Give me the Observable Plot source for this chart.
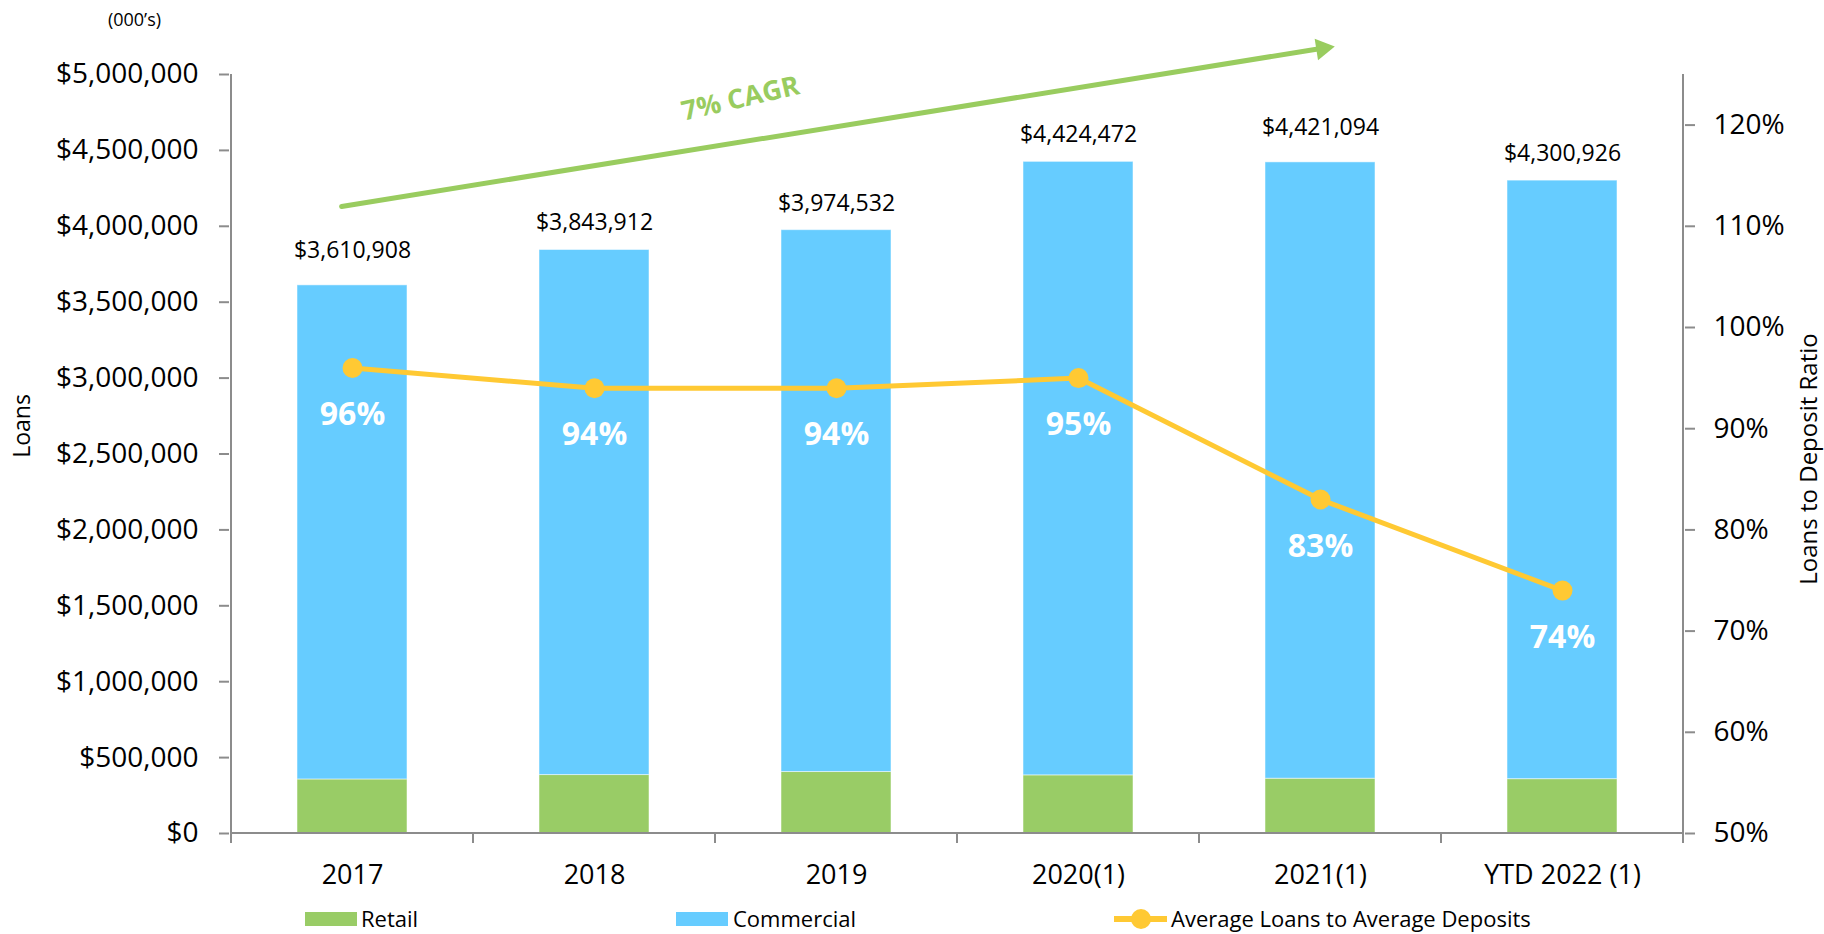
<!DOCTYPE html>
<html><head><meta charset="utf-8">
<script src="https://cdn.jsdelivr.net/npm/d3@7"></script>
<script src="https://cdn.jsdelivr.net/npm/@observablehq/plot@0.6"></script>
<style>
body{margin:0;background:#fff;font-family:"Open Sans",sans-serif;}
#chart svg{display:block;}
#legend{position:relative;width:1824px;height:39px;font-size:22px;color:#000;}
.sw{position:absolute;}
.lt{position:absolute;line-height:22px;top:12px;white-space:nowrap;}
</style></head><body>
<div id="chart"></div>
<div id="legend"></div>
<script>
// ---- data ----
const years = ["2017", "2018", "2019", "2020(1)", "2021(1)", "YTD 2022 (1)"];
const totalLoans = [3610908, 3843912, 3974532, 4424472, 4421094, 4300926];
const retailLoans = [356000, 385000, 405000, 383000, 361000, 358000];
const loanToDeposit = [0.96, 0.94, 0.94, 0.95, 0.83, 0.74];
const loanTicks = [0, 500000, 1000000, 1500000, 2000000, 2500000, 3000000, 3500000, 4000000, 4500000, 5000000];
const ratioTicks = [0.5, 0.6, 0.7, 0.8, 0.9, 1.0, 1.1, 1.2];
const loanDomain = [0, 5000000];
const ratioDomain = [0.5, 1.25];
const raisedLabels = ["2017", "2021(1)"];
const cagrArrow = [{x1: "2017", y1: 4142000, x2: "2021(1)", y2: 5171000}];
const cagrLabel = [{x: "2019", y: 4840000, text: "7% CAGR"}];
const seriesNames = ["Retail", "Commercial", "Average Loans to Average Deposits"];

// ---- colours ----
const cRetail = "#99CC66", cComm = "#66CCFF", cLine = "#FFC933", cAxis = "#8C8C8C", cCagr = "#99CC5F";

const toLeft = r => (r - ratioDomain[0]) / (ratioDomain[1] - ratioDomain[0]) * (loanDomain[1] - loanDomain[0]);
const rows = years.map((y, i) => ({
  year: y, total: totalLoans[i], retail: retailLoans[i],
  commercial: totalLoans[i] - retailLoans[i], ratio: loanToDeposit[i], ratioY: toLeft(loanToDeposit[i])
}));
const fmt$ = d3.format(",");

const axisLines = (index, scales, values, dims) => {
  const x = scales.x, y = scales.y;
  const step = x.step(), bw = x.bandwidth();
  const y0 = y(loanDomain[0]), yTop = y(loanDomain[1]);
  const xl = x(years[0]) + bw / 2 - step / 2;
  const xr = x(years[years.length - 1]) + bw / 2 + step / 2;
  const g = d3.create("svg:g").attr("stroke", cAxis).attr("stroke-width", 2).attr("fill", "none");
  g.append("line").attr("x1", xl).attr("x2", xr).attr("y1", y0).attr("y2", y0);
  g.append("line").attr("x1", xl).attr("x2", xl).attr("y1", yTop).attr("y2", y0 + 10);
  g.append("line").attr("x1", xr).attr("x2", xr).attr("y1", yTop).attr("y2", y0 + 10);
  years.forEach(yr => {
    const b = x(yr) + bw / 2 + step / 2;
    g.append("line").attr("x1", b).attr("x2", b).attr("y1", y0).attr("y2", y0 + 10);
  });
  return g.node();
};

const chart = Plot.plot({
  width: 1824, height: 895,
  marginLeft: 229, marginRight: 140, marginTop: 74, marginBottom: 62,
  style: {fontFamily: "'Open Sans', sans-serif", color: "#000", background: "#fff", overflow: "visible"},
  x: {domain: years, paddingInner: 0.546, paddingOuter: 0.273, label: null},
  y: {domain: loanDomain, label: null},
  marks: [
    Plot.barY(rows, {x: "year", y1: 0, y2: "retail", fill: cRetail, stroke: "#fff", strokeOpacity: 0.5, strokeWidth: 1}),
    Plot.barY(rows, {x: "year", y1: "retail", y2: "total", fill: cComm, stroke: "#fff", strokeOpacity: 0.5, strokeWidth: 1}),
    axisLines,
    Plot.axisY(loanTicks, {anchor: "left", tickSize: 10, tickPadding: 21, fontSize: 28, stroke: cAxis, strokeWidth: 2,
      tickFormat: d => "$" + fmt$(d), label: null}),
    Plot.axisY(ratioTicks.map(toLeft), {anchor: "right", tickSize: 10, tickPadding: 19, fontSize: 28, stroke: cAxis, strokeWidth: 2,
      tickFormat: d => Math.round((ratioDomain[0] + d / loanDomain[1] * (ratioDomain[1] - ratioDomain[0])) * 100) + "%", label: null}),
    Plot.axisX({anchor: "bottom", tickSize: 0, tickPadding: 31, fontSize: 27, label: null}),
    Plot.text(rows.filter(d => !raisedLabels.includes(d.year)), {x: "year", y: "total", text: d => "$" + fmt$(d.total), dy: -27, fontSize: 23, lineAnchor: "middle"}),
    Plot.text(rows.filter(d => raisedLabels.includes(d.year)), {x: "year", y: "total", text: d => "$" + fmt$(d.total), dy: -35, fontSize: 23, lineAnchor: "middle"}),
    Plot.line(rows, {x: "year", y: "ratioY", stroke: cLine, strokeWidth: 5}),
    Plot.dot(rows, {x: "year", y: "ratioY", r: 10, fill: cLine}),
    Plot.text(rows, {x: "year", y: "ratioY", text: d => Math.round(d.ratio * 100) + "%", dy: 47, fontSize: 32, fontWeight: "bold", fill: "#fff", lineAnchor: "middle"}),
    Plot.arrow(cagrArrow, {x1: "x1", y1: "y1", x2: "x2", y2: "y2", stroke: cCagr, strokeWidth: 5, headLength: 0, insetStart: -11, insetEnd: -2}),
    Plot.dot(cagrArrow, {x: "x2", y: "y2", dx: 2, symbol: "triangle", r: 8, fill: cCagr, rotate: 81}),
    Plot.text(cagrLabel, {x: "x", y: "y", text: "text", dx: -96, fontSize: 27, fontWeight: "bold", fill: cCagr, rotate: -13}),
    Plot.text(["(000’s)"], {frameAnchor: "top-left", dx: -95, dy: -54, fontSize: 18, textAnchor: "middle", lineAnchor: "middle"}),
    Plot.text(["Loans"], {frameAnchor: "left", dx: -207, dy: -28, fontSize: 23, rotate: -90, textAnchor: "middle", lineAnchor: "middle"}),
    Plot.text(["Loans to Deposit Ratio"], {frameAnchor: "right", dx: 125, dy: 5, fontSize: 24, rotate: -90, textAnchor: "middle", lineAnchor: "middle"})
  ]
});
document.getElementById("chart").appendChild(chart);

// ---- legend ----
const legend = d3.select("#legend");
const items = [
  {name: seriesNames[0], kind: "bar", color: cRetail, x: 305, tx: 361},
  {name: seriesNames[1], kind: "bar", color: cComm, x: 676, tx: 733},
  {name: seriesNames[2], kind: "line", color: cLine, x: 1114, tx: 1171}
];
items.forEach(it => {
  if (it.kind === "bar") {
    legend.append("div").attr("class", "sw").style("left", it.x + "px").style("top", "17px")
      .style("width", "52px").style("height", "14px").style("background", it.color);
  } else {
    legend.append("div").attr("class", "sw").style("left", it.x + "px").style("top", "21px")
      .style("width", "53px").style("height", "6px").style("background", it.color);
    legend.append("div").attr("class", "sw").style("left", (it.x + 17) + "px").style("top", "14px")
      .style("width", "20px").style("height", "20px").style("border-radius", "50%").style("background", it.color);
  }
  legend.append("div").attr("class", "lt").style("left", it.tx + "px").text(it.name);
});
</script>
</body></html>
